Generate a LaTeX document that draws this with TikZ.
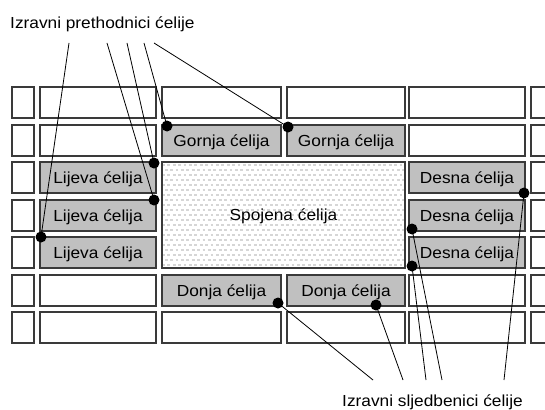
\documentclass[tikz,border=0pt]{standalone}
\usepackage{fontspec}
\setmainfont{Liberation Sans}[FakeStretch=1.08]
\definecolor{cellline}{HTML}{3A3A3A}
\definecolor{cellgray}{HTML}{C0C0C0}
\definecolor{dashgray}{HTML}{D6D6D6}
\begin{document}
\begin{tikzpicture}[x=1pt,y=-1pt,
  cellbox/.style={draw=cellline, line width=1.2pt, fill=white},
  graycell/.style={draw=cellline, line width=1.2pt, fill=cellgray, inner sep=0pt, outer sep=0pt,
     font=\fontsize{16}{19}\selectfont, text height=11.4pt, text depth=0pt, minimum height=31pt},
  mergedcell/.style={draw=cellline, line width=1.2pt, inner sep=0pt, outer sep=0pt,
     font=\fontsize{16}{19}\selectfont, text height=11.4pt, text depth=0pt},
  labeltext/.style={font=\fontsize{16}{19}\selectfont, inner sep=0pt},
  dotnode/.style={circle, fill=black, inner sep=0pt, minimum size=11pt},
  leader/.style={draw=black, line width=0.8pt}]
\useasboundingbox (0,0) rectangle (545,409);
\begin{scope}
\clip (0,0) rectangle (545,409);
% plain grid
\foreach \xa/\xb in {12/34,40/156,162/281,287/405,409/525,531/570}
  \foreach \ya/\yb in {87/118,125/156,162/193,200/231,237/268,275/306,312/343}
    \draw[cellbox] (\xa,\ya) rectangle (\xb,\yb);
\end{scope}
% merged cell with pattern
\fill[white] (160,160) rectangle (407,270);
\begin{scope}
\clip (162,162) rectangle (405,268);
\foreach \k in {0,...,10}
  \draw[dashgray, line width=1.6pt, dash pattern=on 2.8pt off 2.6pt] (162,{165+10*\k}) -- (405,{165+10*\k});
\foreach \k in {0,...,10}
  \draw[dashgray, line width=1.6pt, dash pattern=on 2.8pt off 2.6pt, dash phase=2.7pt] (162,{170+10*\k}) -- (405,{170+10*\k});
\end{scope}
\node[mergedcell, minimum width=243pt, minimum height=106pt] (m) at (283.5,215) {Spojena ćelija};
% gray cells
\node[graycell, minimum width=119pt] (g1) at (221.5,140.5) {Gornja ćelija};
\node[graycell, minimum width=118pt] (g2) at (346,140.5) {Gornja ćelija};
\node[graycell, minimum width=116pt] (l1) at (98,177.5) {Lijeva ćelija};
\node[graycell, minimum width=116pt] (l2) at (98,215.5) {Lijeva ćelija};
\node[graycell, minimum width=116pt] (l3) at (98,252.5) {Lijeva ćelija};
\node[graycell, minimum width=116pt] (r1) at (467,177.5) {Desna ćelija};
\node[graycell, minimum width=116pt] (r2) at (467,215.5) {Desna ćelija};
\node[graycell, minimum width=116pt] (r3) at (467,252.5) {Desna ćelija};
\node[graycell, minimum width=119pt] (b1) at (221.5,290.5) {Donja ćelija};
\node[graycell, minimum width=118pt] (b2) at (346,290.5) {Donja ćelija};
% labels
\node[labeltext, anchor=base west] (toplabel) at (10,29) {Izravni prethodnici ćelije};
\node[labeltext, anchor=base west] (botlabel) at (342,406) {Izravni sljedbenici ćelije};
% leader end points
\coordinate (t1) at (69,43);
\coordinate (t2) at (107,43);
\coordinate (t3) at (127,43);
\coordinate (t4) at (144,43);
\coordinate (t5) at (154,43);
\coordinate (s1) at (373,380);
\coordinate (s2) at (403,380);
\coordinate (s3) at (426,380);
\coordinate (s4) at (442,380);
\coordinate (s5) at (504,380);
% dots
\node[dotnode] (dg1) at (167,126) {};
\node[dotnode] (dg2) at (288,127) {};
\node[dotnode] (dl1) at (154,163) {};
\node[dotnode] (dl2) at (154,200) {};
\node[dotnode] (dl3) at (41,237) {};
\node[dotnode] (dr1) at (524,193) {};
\node[dotnode] (dr2) at (412,229) {};
\node[dotnode] (dr3) at (412,266) {};
\node[dotnode] (db1) at (278,303) {};
\node[dotnode] (db2) at (376,305) {};
% leaders
\draw[leader] (t1) -- (dl3.center);
\draw[leader] (t2) -- (dl2.center);
\draw[leader] (t3) -- (dl1.center);
\draw[leader] (t4) -- (dg1.center);
\draw[leader] (t5) -- (dg2.center);
\draw[leader] (s1) -- (db1.center);
\draw[leader] (s2) -- (db2.center);
\draw[leader] (s3) -- (dr3.center);
\draw[leader] (s4) -- (dr2.center);
\draw[leader] (s5) -- (dr1.center);
\end{tikzpicture}
\end{document}
